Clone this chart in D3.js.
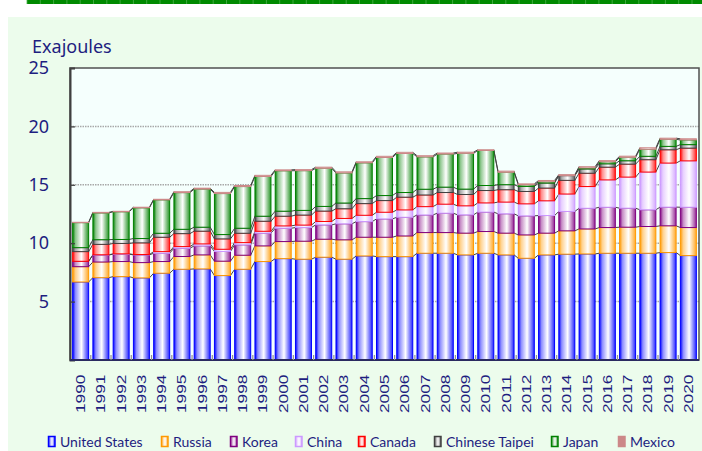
<!DOCTYPE html>
<html>
<head>
<meta charset="utf-8">
<script src="https://cdn.jsdelivr.net/npm/d3@7"></script>
<style>
  html, body { margin: 0; padding: 0; background: #ffffff; }
  svg { display: block; }
</style>
</head>
<body>
<svg id="chart" width="702" height="451"></svg>
<script>
// Data (Exajoules)
const years = ['1990','1991','1992','1993','1994','1995','1996','1997','1998','1999','2000',
  '2001','2002','2003','2004','2005','2006','2007','2008','2009','2010',
  '2011','2012','2013','2014','2015','2016','2017','2018','2019','2020'];

const unitedStates = [6.68,7.05,7.14,7.03,7.43,7.77,7.80,7.23,7.77,8.43,8.68,8.63,8.80,8.63,8.91,8.85,8.85,9.14,9.14,9.00,9.14,9.00,8.71,9.00,9.06,9.08,9.14,9.14,9.14,9.20,8.94];
const russia = [1.31,1.34,1.29,1.31,1.00,1.09,1.20,1.23,1.20,1.34,1.46,1.54,1.54,1.66,1.60,1.66,1.77,1.77,1.77,1.86,1.86,1.86,2.00,1.86,2.00,2.14,2.20,2.23,2.29,2.29,2.40];
const korea = [0.46,0.60,0.63,0.66,0.71,0.71,0.77,0.83,0.89,1.09,1.14,1.17,1.23,1.37,1.34,1.57,1.60,1.51,1.66,1.57,1.66,1.66,1.63,1.51,1.66,1.77,1.74,1.63,1.43,1.60,1.74];
const china = [0,0.02,0.03,0.03,0.14,0.14,0.17,0.19,0.19,0.16,0.20,0.21,0.29,0.46,0.54,0.57,0.63,0.71,0.77,0.77,0.79,1.00,1.03,1.26,1.49,1.86,2.34,2.66,3.23,3.77,3.97];
const canada = [0.83,0.89,0.89,1.00,1.23,1.11,1.09,0.89,0.80,0.86,0.83,0.86,0.89,0.83,1.00,1.00,1.09,1.00,1.00,0.97,1.06,1.06,1.06,1.09,1.17,1.14,1.09,1.11,1.06,1.14,1.09];
const chineseTaipei = [0.34,0.40,0.34,0.37,0.34,0.37,0.34,0.37,0.43,0.43,0.43,0.40,0.40,0.49,0.43,0.43,0.40,0.49,0.46,0.46,0.43,0.43,0.43,0.43,0.40,0.37,0.29,0.29,0.29,0.29,0.30];
const japan = [2.14,2.29,2.37,2.63,2.86,3.14,3.26,3.51,3.57,3.40,3.46,3.40,3.26,2.57,3.06,3.26,3.34,2.77,2.83,3.06,3.00,1.06,0.14,0.11,0.00,0.08,0.17,0.29,0.60,0.60,0.40];
const mexico = [0.03,0.05,0.04,0.05,0.05,0.08,0.08,0.10,0.09,0.10,0.08,0.09,0.10,0.10,0.09,0.10,0.10,0.10,0.09,0.10,0.06,0.10,0.08,0.11,0.09,0.11,0.10,0.10,0.13,0.10,0.10];

const seriesNames = ['United States','Russia','Korea','China','Canada','Chinese Taipei','Japan','Mexico'];
const seriesValues = [unitedStates, russia, korea, china, canada, chineseTaipei, japan, mexico];
const seriesColors = ['#0000ff','#ff9900','#800080','#cc99ff','#ff0000','#404040','#008000','#cc8888'];
const yTicks = [5, 10, 15, 20, 25];

const textColor = '#1e1e80';

const svg = d3.select('#chart');
const margin = { left: 70, right: 3, top: 68, bottom: 91 };
const width = 702, height = 451;

// page background panel + decorative top strip
svg.append('rect').attr('x', 8).attr('y', 17).attr('width', width - 8).attr('height', height - 17)
  .attr('fill', '#ecfcec');
svg.append('rect').attr('x', 27).attr('y', 0).attr('width', width - 27).attr('height', 4)
  .attr('fill', '#008a00');
svg.append('g').selectAll('line')
  .data(d3.range(27, width, 13.3))
  .join('line')
  .attr('x1', d => d).attr('x2', d => d).attr('y1', 0).attr('y2', 4)
  .attr('stroke', '#4cb04c').attr('stroke-width', 0.8);

// build rows for d3.stack
const table = years.map((yr, i) => {
  const row = { year: yr };
  seriesNames.forEach((name, k) => { row[name] = seriesValues[k][i]; });
  return row;
});
const stacked = d3.stack().keys(seriesNames)(table);

const x = d3.scaleBand()
  .domain(years)
  .range([margin.left, width - margin.right])
  .paddingInner(0.21)
  .paddingOuter(0.13);

const y = d3.scaleLinear()
  .domain([0, 25])
  .range([height - margin.bottom, margin.top]);

// gradients per series
const defs = svg.append('defs');
seriesColors.forEach((c, k) => {
  const g = defs.append('linearGradient').attr('id', 'grad' + k)
    .attr('x1', '0%').attr('x2', '100%').attr('y1', '0%').attr('y2', '0%');
  g.append('stop').attr('offset', '0%').attr('stop-color', c);
  g.append('stop').attr('offset', '18%').attr('stop-color', d3.interpolateRgb(c, '#ffffff')(0.55));
  g.append('stop').attr('offset', '55%').attr('stop-color', '#ffffff');
  g.append('stop').attr('offset', '100%').attr('stop-color', d3.interpolateRgb(c, '#ffffff')(0.15));
});

// plot background
svg.append('rect')
  .attr('x', margin.left).attr('y', margin.top)
  .attr('width', width - margin.right - margin.left)
  .attr('height', y(0) - margin.top)
  .attr('fill', '#f5fffd');

// gridlines
svg.append('g').selectAll('line')
  .data(yTicks.filter(t => t < 25))
  .join('line')
  .attr('x1', margin.left).attr('x2', width - margin.right)
  .attr('y1', d => y(d)).attr('y2', d => y(d))
  .attr('stroke', '#a8a8a8').attr('stroke-width', 1.5).attr('stroke-dasharray', '1.5,1');

// series lines between adjacent bars
const seriesLines = svg.append('g');
stacked.forEach(layer => {
  for (let i = 0; i < layer.length - 1; i++) {
    seriesLines.append('line')
      .attr('x1', x(years[i]) + x.bandwidth())
      .attr('y1', y(layer[i][1]))
      .attr('x2', x(years[i + 1]))
      .attr('y2', y(layer[i + 1][1]))
      .attr('stroke', '#444').attr('stroke-width', 1);
  }
});

// stacked bars
svg.append('g').selectAll('g')
  .data(stacked)
  .join('g')
  .attr('fill', (d, k) => `url(#grad${k})`)
  .attr('stroke', (d, k) => seriesColors[k])
  .selectAll('rect')
  .data(d => d)
  .join('rect')
  .attr('x', d => x(d.data.year))
  .attr('width', x.bandwidth())
  .attr('y', d => y(d[1]))
  .attr('height', d => Math.max(0, y(d[0]) - y(d[1])))
  .attr('stroke-width', 1);

// plot frame
svg.append('rect')
  .attr('x', margin.left).attr('y', margin.top)
  .attr('width', width - margin.right - margin.left)
  .attr('height', y(0) - margin.top)
  .attr('fill', 'none').attr('stroke', '#505050').attr('stroke-width', 1.5);

// y axis
const yAxis = svg.append('g')
  .attr('transform', `translate(${margin.left},0)`)
  .call(d3.axisLeft(y).tickValues(yTicks).tickSize(-5).tickPadding(21));
yAxis.select('.domain').attr('stroke', '#404040').attr('stroke-width', 2);
yAxis.selectAll('.tick line').attr('stroke', '#404040').attr('stroke-width', 1.2);
yAxis.selectAll('.tick text')
  .attr('fill', textColor)
  .style('font-family', '"Noto Sans", Lato, sans-serif')
  .style('font-size', '18px');

// x axis baseline + small ticks between bars
svg.append('line')
  .attr('x1', margin.left).attr('x2', width - margin.right)
  .attr('y1', y(0)).attr('y2', y(0))
  .attr('stroke', '#2a2a60').attr('stroke-width', 2);
svg.append('g').selectAll('line')
  .data(years.slice(1))
  .join('line')
  .attr('x1', d => x(d) - x.step() * x.paddingInner() / 2)
  .attr('x2', d => x(d) - x.step() * x.paddingInner() / 2)
  .attr('y1', y(0)).attr('y2', y(0) - 5)
  .attr('stroke', '#909090').attr('stroke-width', 1.2);

// year labels (rotated)
svg.append('g').selectAll('text')
  .data(years)
  .join('text')
  .attr('transform', d => `translate(${x(d) + x.bandwidth() / 2 + 4.5},${y(0) + 53}) rotate(-90)`)
  .attr('textLength', 38.5)
  .attr('lengthAdjust', 'spacingAndGlyphs')
  .attr('fill', textColor)
  .style('font-family', '"Liberation Sans", Arial, sans-serif')
  .style('font-size', '13px')
  .text(d => d);

// unit label
svg.append('text')
  .attr('x', 32).attr('y', 53)
  .attr('fill', textColor)
  .style('font-family', '"Noto Sans", Lato, sans-serif')
  .style('font-size', '18px')
  .text('Exajoules');

// legend (marker positions follow the reference layout)
const legendX = [48, 161, 230, 295, 358, 434, 551, 618];
const legend = svg.append('g');
seriesNames.forEach((name, k) => {
  const lx = legendX[k];
  legend.append('rect')
    .attr('x', lx + 0.5).attr('y', 436.5)
    .attr('width', 6.5).attr('height', 10)
    .attr('fill', k === 7 ? seriesColors[k] : `url(#grad${k})`)
    .attr('stroke', seriesColors[k]).attr('stroke-width', 1.5);
  legend.append('text')
    .attr('x', lx + 12).attr('y', 446.5)
    .attr('fill', textColor)
    .style('font-family', 'Lato, "Noto Sans", sans-serif')
    .style('font-size', '14px')
    .text(name);
});
</script>
</body>
</html>
